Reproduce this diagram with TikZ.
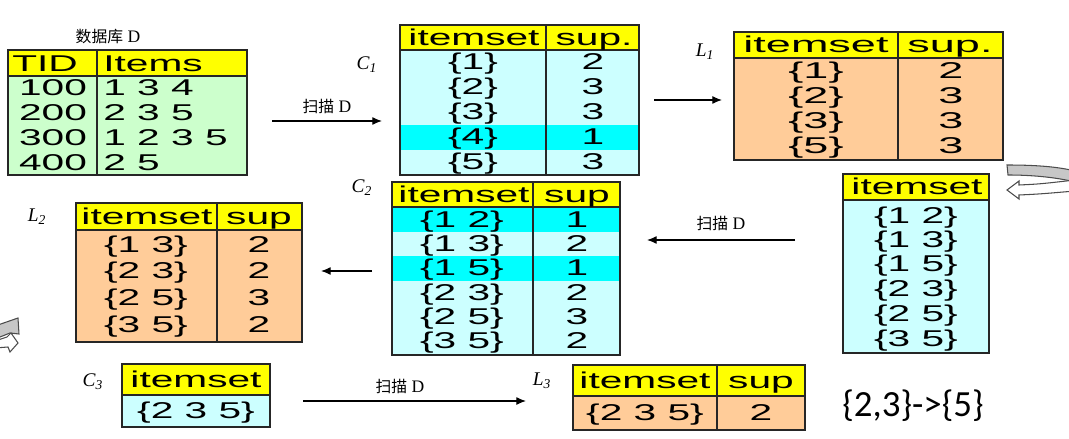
\documentclass[tikz,border=0pt]{standalone}
\usepackage{fontspec}
\usetikzlibrary{arrows.meta}
\setmainfont{Liberation Serif}
\newfontfamily\tabfont[FakeStretch=1.78]{Liberation Sans}
\newfontfamily\tabfontwide[FakeStretch=1.97]{Liberation Sans}
\newfontfamily\cjkfont{Noto Sans CJK SC}
\newfontfamily\rulefont{Carlito}
\definecolor{hdryellow}{HTML}{FFFF00}
\definecolor{dbgreen}{HTML}{CCFFCC}
\definecolor{lightcyan}{HTML}{CCFFFF}
\definecolor{brightcyan}{HTML}{00FFFF}
\definecolor{lorange}{HTML}{FFCC99}
\tikzset{
  tblline/.style={line width=1pt, draw=black!85},
  celltext/.style={font=\tabfont\fontsize{13}{15}\selectfont, inner sep=0pt, text height=9.75pt, text depth=2.7pt},
  widetext/.style={celltext, font=\tabfontwide\fontsize{13}{15}\selectfont},
  setlabel/.style={font=\itshape\fontsize{11}{13}\selectfont, inner sep=0pt},
  scanlabel/.style={font=\fontsize{10}{12}\selectfont, inner sep=0pt},
  flowarrow/.style={-{Latex[length=5.5pt,width=4.5pt]}, line width=0.6pt},
  bendarrow/.style={draw=black!70, line width=0.6pt}
}
\begin{document}
\begin{tikzpicture}[x=0.02cm, y=-0.02cm]
\useasboundingbox (0,0) rectangle (1069,439);
\def\scanD{{\cjkfont\fontsize{9}{12}\selectfont 扫描}~D}

% database D
\fill[dbgreen] (8,76) rectangle (247,175);
\fill[hdryellow] (8,50) rectangle (247,76);
\draw[tblline] (8,50) rectangle (247,175);
\draw[tblline] (8,76) -- (247,76) (97,50) -- (97,175);
\node[scanlabel] (dblabel) at (108,37) {{\cjkfont\fontsize{9}{12}\selectfont 数据库}~D};
\node[celltext, anchor=west] (dbh1) at (12,65) {TID};
\node[celltext, anchor=west] (dbh2) at (103,65) {Items};
\node[celltext] (db1a) at (53,89) {100};
\node[celltext, anchor=west] (db1b) at (103,89) {1 3 4};
\node[celltext] (db2a) at (53,114) {200};
\node[celltext, anchor=west] (db2b) at (103,114) {2 3 5};
\node[celltext] (db3a) at (53,139) {300};
\node[celltext, anchor=west] (db3b) at (103,139) {1 2 3 5};
\node[celltext] (db4a) at (53,164) {400};
\node[celltext, anchor=west] (db4b) at (103,164) {2 5};

% C1
\fill[lightcyan] (400,50) rectangle (639,175);
\fill[brightcyan] (400,125) rectangle (639,150);
\fill[hdryellow] (400,25) rectangle (639,50);
\draw[tblline] (400,25) rectangle (639,175);
\draw[tblline] (400,50) -- (639,50) (546,25) -- (546,175);
\node[setlabel] (c1label) at (367,65) {C\textsubscript{1}};
\node[celltext] (c1h1) at (474,39) {itemset};
\node[celltext] (c1h2) at (594,39) {sup.};
\node[celltext] (c1r1a) at (473,63) {\{1\}};
\node[celltext] (c1r1b) at (593,63) {2};
\node[celltext] (c1r2a) at (473,88) {\{2\}};
\node[celltext] (c1r2b) at (593,88) {3};
\node[celltext] (c1r3a) at (473,113) {\{3\}};
\node[celltext] (c1r3b) at (593,113) {3};
\node[celltext] (c1r4a) at (473,138) {\{4\}};
\node[celltext] (c1r4b) at (593,138) {1};
\node[celltext] (c1r5a) at (473,163) {\{5\}};
\node[celltext] (c1r5b) at (593,163) {3};

% L1
\fill[lorange] (734,58) rectangle (1003,160);
\fill[hdryellow] (734,32) rectangle (1003,58);
\draw[tblline] (734,32) rectangle (1003,160);
\draw[tblline] (734,58) -- (1003,58) (898,32) -- (898,160);
\node[setlabel] (l1label) at (705,52) {L\textsubscript{1}};
\node[widetext] (l1h1) at (816,46) {itemset};
\node[widetext] (l1h2) at (950,46) {sup.};
\node[widetext] (l1r1a) at (816,72) {\{1\}};
\node[widetext] (l1r1b) at (951,72) {2};
\node[widetext] (l1r2a) at (816,97) {\{2\}};
\node[widetext] (l1r2b) at (951,97) {3};
\node[widetext] (l1r3a) at (816,122) {\{3\}};
\node[widetext] (l1r3b) at (951,122) {3};
\node[widetext] (l1r4a) at (816,147) {\{5\}};
\node[widetext] (l1r4b) at (951,147) {3};

% C2 candidates (no counts yet)
\fill[lightcyan] (843,200) rectangle (989,353);
\fill[hdryellow] (843,174) rectangle (989,200);
\draw[tblline] (843,174) rectangle (989,353);
\draw[tblline] (843,200) -- (989,200);
\node[celltext] (cgh) at (917,188) {itemset};
\node[celltext] (cg1) at (916,217) {\{1 2\}};
\node[celltext] (cg2) at (916,241) {\{1 3\}};
\node[celltext] (cg3) at (916,265) {\{1 5\}};
\node[celltext] (cg4) at (916,290) {\{2 3\}};
\node[celltext] (cg5) at (916,315) {\{2 5\}};
\node[celltext] (cg6) at (916,340) {\{3 5\}};

% C2
\fill[lightcyan] (392,207) rectangle (620,355);
\fill[brightcyan] (392,207) rectangle (620,232);
\fill[brightcyan] (392,256) rectangle (620,281);
\fill[hdryellow] (392,182) rectangle (620,207);
\draw[tblline] (392,182) rectangle (620,355);
\draw[tblline] (392,207) -- (620,207) (533,182) -- (533,355);
\node[setlabel] (c2label) at (362,188) {C\textsubscript{2}};
\node[celltext] (c2h1) at (464,196) {itemset};
\node[celltext] (c2h2) at (577,196) {sup};
\node[celltext] (c2r1a) at (462,221) {\{1 2\}};
\node[celltext] (c2r1b) at (577,221) {1};
\node[celltext] (c2r2a) at (462,245) {\{1 3\}};
\node[celltext] (c2r2b) at (577,245) {2};
\node[celltext] (c2r3a) at (462,269) {\{1 5\}};
\node[celltext] (c2r3b) at (577,269) {1};
\node[celltext] (c2r4a) at (462,294) {\{2 3\}};
\node[celltext] (c2r4b) at (577,294) {2};
\node[celltext] (c2r5a) at (462,318) {\{2 5\}};
\node[celltext] (c2r5b) at (577,318) {3};
\node[celltext] (c2r6a) at (462,342) {\{3 5\}};
\node[celltext] (c2r6b) at (577,342) {2};

% L2
\fill[lorange] (76,230) rectangle (302,342);
\fill[hdryellow] (76,203) rectangle (302,230);
\draw[tblline] (76,203) rectangle (302,342);
\draw[tblline] (76,230) -- (302,230) (217,203) -- (217,342);
\node[setlabel] (l2label) at (37,217) {L\textsubscript{2}};
\node[celltext] (l2h1) at (147,218) {itemset};
\node[celltext] (l2h2) at (259,218) {sup};
\node[celltext] (l2r1a) at (146,246) {\{1 3\}};
\node[celltext] (l2r1b) at (259,246) {2};
\node[celltext] (l2r2a) at (146,272) {\{2 3\}};
\node[celltext] (l2r2b) at (259,272) {2};
\node[celltext] (l2r3a) at (146,299) {\{2 5\}};
\node[celltext] (l2r3b) at (259,299) {3};
\node[celltext] (l2r4a) at (146,326) {\{3 5\}};
\node[celltext] (l2r4b) at (259,326) {2};

% C3
\fill[lightcyan] (122,395) rectangle (270,427);
\fill[hdryellow] (122,364) rectangle (270,395);
\draw[tblline] (122,364) rectangle (270,427);
\draw[tblline] (122,395) -- (270,395);
\node[setlabel] (c3label) at (93,382) {C\textsubscript{3}};
\node[celltext] (c3h) at (196,381) {itemset};
\node[celltext] (c3r1) at (196,412) {\{2 3 5\}};

% L3
\fill[lorange] (573,396) rectangle (805,430);
\fill[hdryellow] (573,365) rectangle (805,396);
\draw[tblline] (573,365) rectangle (805,430);
\draw[tblline] (573,396) -- (805,396) (717,365) -- (717,430);
\node[setlabel] (l3label) at (542,381) {L\textsubscript{3}};
\node[celltext] (l3h1) at (645,382) {itemset};
\node[celltext] (l3h2) at (761,382) {sup};
\node[celltext] (l3r1a) at (645,414) {\{2 3 5\}};
\node[celltext] (l3r1b) at (761,414) {2};
\node[font=\rulefont\fontsize{21}{25}\selectfont, inner sep=0pt] (rule) at (913,406) {\{2,3\}->\{5\}};

% scan and filter arrows
\coordinate (scan1s) at (272,121);
\coordinate (scan1e) at (382,121);
\coordinate (keep1s) at (654,100);
\coordinate (keep1e) at (722,100);
\coordinate (scan2s) at (795,240);
\coordinate (scan2e) at (647,240);
\coordinate (keep2s) at (372,271);
\coordinate (keep2e) at (321,271);
\coordinate (scan3s) at (303,401);
\coordinate (scan3e) at (526,401);
\draw[flowarrow] (scan1s) -- node[scanlabel, above=4pt] (scan1lbl) {\scanD} (scan1e);
\draw[flowarrow] (keep1s) -- (keep1e);
\draw[flowarrow] (scan2s) -- node[scanlabel, above=5pt] (scan2lbl) {\scanD} (scan2e);
\draw[flowarrow] (keep2s) -- (keep2e);
\draw[flowarrow] (scan3s) -- node[scanlabel, above=4pt, pos=0.435] (scan3lbl) {\scanD} (scan3e);

% bent arrows at the edges
\filldraw[bendarrow, fill=black!22] (1007,165) .. controls (1030,165) and (1055,166) .. (1075,171) -- (1075,182) .. controls (1055,177) and (1030,175) .. (1008,175) -- cycle;
\filldraw[bendarrow, fill=white] (1007,190) -- (1019,181) -- (1019,185) .. controls (1040,184) .. (1075,180) -- (1075,191) .. controls (1040,194) .. (1019,195) -- (1019,199) -- cycle;
\filldraw[bendarrow, fill=black!22] (-5,326) -- (18,318) -- (19,334) -- (10,333) -- (-5,339) -- cycle;
\filldraw[bendarrow, fill=white] (-5,341) -- (7,337) -- (11,333) -- (18,343) -- (10,352) -- (8,347) -- (-5,348) -- cycle;
\end{tikzpicture}
\end{document}
